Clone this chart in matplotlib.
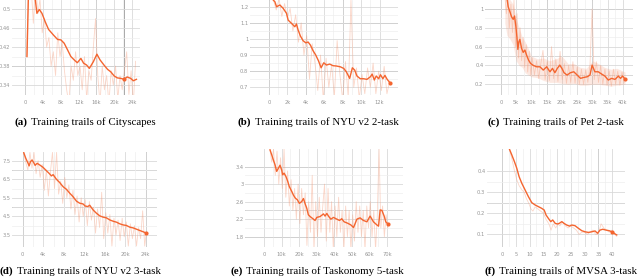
import matplotlib
matplotlib.use("Agg")
import matplotlib.pyplot as plt
from matplotlib.offsetbox import TextArea, HPacker, AnchoredOffsetbox

# ---------------- data ----------------
# (a) Cityscapes
a_smooth_x = [0.37, 0.75, 1.87, 2.6, 3.14, 3.74, 4.48, 5.23, 6.35, 7.25, 8.0, 8.74, 9.5, 10.24, 11.2, 11.7,
              12.5, 13.1, 13.8, 14.4, 15.3, 16.1, 16.8, 17.7, 18.5, 19.2, 20.0, 20.7, 21.5, 22.2, 22.9, 23.7,
              24.3, 25.0]
a_smooth_y = [0.400, 0.55, 0.55, 0.491, 0.499, 0.491, 0.473, 0.457, 0.445, 0.436, 0.435, 0.428, 0.414, 0.400,
              0.391, 0.387, 0.396, 0.386, 0.382, 0.375, 0.389, 0.405, 0.393, 0.382, 0.373, 0.368, 0.359, 0.355,
              0.354, 0.352, 0.357, 0.354, 0.349, 0.352]
a_raw_x = [0.3, 0.8, 1.3, 1.8, 2.3, 2.8, 3.3, 3.8, 4.3, 4.8, 5.3, 5.8, 6.3, 6.8, 7.3, 7.8, 8.3, 8.8, 9.3, 9.8,
           10.3, 10.8, 11.3, 11.8, 12.3, 12.8, 13.3, 13.8, 14.3, 14.8, 15.3, 15.8, 16.3, 16.8, 17.3, 17.8,
           18.3, 18.8, 19.3, 19.8, 20.3, 20.8, 21.3, 21.8, 22.3, 22.8, 23.3, 23.8, 24.3, 24.8]
a_raw_y = [0.40, 0.58, 0.55, 0.47, 0.56, 0.49, 0.52, 0.45, 0.48, 0.42, 0.44, 0.38, 0.41, 0.36, 0.45, 0.40,
           0.43, 0.37, 0.33, 0.30, 0.38, 0.35, 0.41, 0.36, 0.38, 0.33, 0.40, 0.31, 0.37, 0.35, 0.42, 0.48,
           0.36, 0.30, 0.38, 0.33, 0.36, 0.30, 0.37, 0.34, 0.38, 0.31, 0.36, 0.33, 0.37, 0.41, 0.32, 0.37,
           0.30, 0.39]
a_dot = (22.3, 0.352)
a_yticks = [0.34, 0.38, 0.42, 0.46, 0.5]
a_ylabels = ["0.34", "0.38", "0.42", "0.46", "0.5"]
a_xticks = [0, 4, 8, 12, 16, 20, 24]
a_xlabels = ["0", "4k", "8k", "12k", "16k", "20k", "24k"]

# (b) NYU v2 2-task
b_smooth_x = [0.47, 0.65, 0.83, 1.19, 1.55, 1.91, 2.09, 2.45, 2.81, 2.99, 3.17, 3.42, 3.71, 4.0, 4.25, 4.5,
              4.79, 5.08, 5.37, 5.66, 5.95, 6.24, 6.59, 6.95, 7.32, 7.75, 8.11, 8.4, 8.76, 9.05, 9.3, 9.55,
              9.91, 10.27, 10.63, 11.0, 11.2, 11.43, 11.64, 11.9, 12.1, 12.36, 12.58, 12.83, 13.0, 13.15]
b_smooth_y = [1.242, 1.231, 1.200, 1.211, 1.190, 1.159, 1.117, 1.097, 1.076, 1.093, 1.055, 1.018, 0.989,
              0.976, 0.981, 0.962, 0.927, 0.900, 0.865, 0.821, 0.852, 0.838, 0.844, 0.834, 0.832, 0.827,
              0.817, 0.796, 0.755, 0.821, 0.807, 0.770, 0.753, 0.753, 0.749, 0.765, 0.782, 0.745, 0.770,
              0.753, 0.778, 0.753, 0.774, 0.749, 0.737, 0.724]
b_raw_x = [0.5, 0.8, 1.1, 1.4, 1.7, 2.0, 2.3, 2.6, 2.9, 3.2, 3.5, 3.8, 4.1, 4.4, 4.7, 5.0, 5.3, 5.6, 5.9,
           6.2, 6.5, 6.8, 7.1, 7.4, 7.7, 8.0, 8.3, 8.6, 8.9, 9.2, 9.5, 9.8, 10.1, 10.4, 10.7, 11.0, 11.3,
           11.6, 11.9, 12.2, 12.5, 12.8, 13.1]
b_raw_y = [1.24, 1.18, 1.25, 1.14, 1.22, 1.13, 1.19, 1.05, 1.15, 0.98, 1.10, 0.90, 1.02, 0.75, 0.97, 0.85,
           0.68, 0.90, 0.62, 0.88, 0.70, 0.84, 0.64, 0.99, 0.78, 0.62, 0.86, 0.64, 1.24, 0.70, 0.82, 0.63,
           0.78, 0.66, 0.82, 0.70, 0.85, 0.66, 0.80, 0.68, 0.83, 0.66, 0.74]
b_dot = (13.15, 0.724)
b_yticks = [0.7, 0.8, 0.9, 1.0, 1.1, 1.2]
b_ylabels = ["0.7", "0.8", "0.9", "1", "1.1", "1.2"]
b_xticks = [0, 2, 4, 6, 8, 10, 12]
b_xlabels = ["0", "2k", "4k", "6k", "8k", "10k", "12k"]

# (c) Pet 2-task
c_smooth_x = [1.31, 2.08, 2.4, 2.95, 3.5, 4.04, 4.48, 4.92, 5.25, 5.57, 5.9, 6.23, 6.78, 7.32, 7.87, 8.42,
              9.07, 9.73, 10.6, 11.7, 12.8, 13.9, 15.0, 16.1, 16.9, 17.7, 18.5, 19.3, 20.0, 20.7, 21.7, 22.8,
              23.9, 25.0, 26.1, 27.2, 28.3, 29.2, 29.9, 30.8, 31.9, 33.0, 34.1, 35.2, 36.3, 37.4, 38.5, 39.2,
              39.9, 40.7]
c_smooth_y = [1.15, 1.096, 1.025, 0.972, 0.918, 0.890, 0.926, 0.812, 0.705, 0.571, 0.652, 0.677, 0.582,
              0.539, 0.564, 0.511, 0.457, 0.422, 0.401, 0.386, 0.386, 0.351, 0.386, 0.333, 0.369, 0.323,
              0.369, 0.404, 0.369, 0.323, 0.298, 0.323, 0.333, 0.298, 0.263, 0.273, 0.280, 0.298, 0.404,
              0.333, 0.333, 0.309, 0.287, 0.245, 0.263, 0.252, 0.287, 0.263, 0.287, 0.256]
c_band_x = [1.3, 2, 3, 4, 5, 6, 7, 8, 9, 10, 12, 14, 16, 18, 20, 22, 24, 26, 28, 30, 32, 34, 36, 38, 40.7]
c_band_lo = [0.85, 0.72, 0.68, 0.62, 0.45, 0.40, 0.38, 0.32, 0.30, 0.28, 0.27, 0.24, 0.22, 0.22, 0.21,
             0.20, 0.21, 0.19, 0.19, 0.20, 0.20, 0.19, 0.18, 0.19, 0.20]
c_band_hi = [1.15, 1.15, 1.10, 1.05, 0.90, 0.80, 0.70, 0.65, 0.58, 0.50, 0.47, 0.48, 0.45, 0.47, 0.50,
             0.42, 0.42, 0.38, 0.37, 0.45, 0.42, 0.38, 0.36, 0.37, 0.33]
c_raw_x = [1.3, 1.8, 2.3, 2.8, 3.3, 3.8, 4.3, 4.8, 5.3, 5.8, 6.3, 6.8, 7.3, 7.8, 8.3, 8.8, 9.3, 9.8, 10.3,
           11.0, 11.7, 12.4, 13.1, 13.8, 14.5, 15.2, 15.9, 16.6, 17.3, 18.0, 18.7, 19.4, 20.1, 20.8, 21.5,
           22.2, 22.9, 23.6, 24.3, 25.0, 25.7, 26.4, 27.1, 27.8, 28.5, 29.2, 29.9, 30.6, 31.3, 32.0, 32.7,
           33.4, 34.1, 34.8, 35.5, 36.2, 36.9, 37.6, 38.3, 39.0, 39.7, 40.4]
c_raw_y = [1.15, 0.95, 1.12, 0.80, 1.05, 0.75, 1.10, 0.60, 0.95, 0.48, 0.80, 0.45, 0.70, 0.38, 0.62, 0.33,
           0.55, 0.30, 0.48, 0.30, 0.45, 0.26, 0.42, 0.56, 0.25, 0.44, 0.24, 0.60, 0.26, 0.47, 0.23, 0.55,
           0.25, 0.42, 0.21, 0.40, 0.22, 0.44, 0.21, 0.38, 0.20, 0.36, 0.20, 0.35, 0.22, 0.40, 1.00, 0.25,
           0.44, 0.22, 0.40, 0.20, 0.36, 0.19, 0.34, 0.18, 0.36, 0.20, 0.34, 0.19, 0.33, 0.22]
c_dot = (40.7, 0.256)
c_yticks = [0.2, 0.4, 0.6, 0.8, 1.0]
c_ylabels = ["0.2", "0.4", "0.6", "0.8", "1"]
c_xticks = [0, 5, 10, 15, 20, 25, 30, 35, 40]
c_xlabels = ["0", "5k", "10k", "15k", "20k", "25k", "30k", "35k", "40k"]

# (d) NYU v2 3-task
d_smooth_x = [0.2, 0.59, 1.04, 1.24, 1.5, 1.82, 2.15, 2.41, 2.8, 3.32, 3.97, 4.62, 5.14, 5.6, 5.92, 6.57,
              7.22, 7.87, 8.52, 9.17, 9.82, 10.48, 11.12, 11.77, 12.16, 12.68, 13.07, 13.72, 14.38, 15.02,
              15.67, 16.33, 16.98, 17.63, 18.28, 18.93, 19.58, 20.24, 20.88, 21.54, 22.2, 22.83, 23.5, 24.1]
d_smooth_y = [7.93, 7.63, 7.36, 7.22, 7.45, 7.54, 7.39, 7.25, 7.36, 7.27, 7.14, 6.96, 6.82, 6.68, 6.75,
              6.50, 6.32, 6.10, 5.96, 5.75, 5.56, 5.32, 5.21, 5.17, 5.06, 5.03, 5.10, 4.85, 4.67, 4.53, 4.46,
              4.42, 4.31, 4.24, 4.19, 4.10, 4.04, 4.01, 3.92, 3.88, 3.81, 3.74, 3.67, 3.60]
d_raw_x = [0.2, 0.6, 1.0, 1.4, 1.8, 2.2, 2.6, 3.0, 3.4, 3.8, 4.2, 4.6, 5.0, 5.4, 5.8, 6.2, 6.6, 7.0, 7.4,
           7.8, 8.2, 8.6, 9.0, 9.4, 9.8, 10.2, 10.6, 11.0, 11.4, 11.8, 12.2, 12.6, 13.0, 13.4, 13.8, 14.2,
           14.6, 15.0, 15.4, 15.8, 16.2, 16.6, 17.0, 17.4, 17.8, 18.2, 18.6, 19.0, 19.4, 19.8, 20.2, 20.6,
           21.0, 21.4, 21.8, 22.2, 22.6, 23.0, 23.4, 23.8, 24.1]
d_raw_y = [7.9, 7.4, 7.0, 7.95, 7.1, 7.95, 6.8, 7.5, 6.6, 7.3, 5.9, 7.0, 5.6, 6.9, 7.95, 6.0, 7.95, 5.7,
           6.4, 5.2, 6.6, 5.5, 6.2, 4.9, 5.9, 4.6, 5.6, 4.2, 5.5, 4.5, 5.4, 4.0, 5.3, 4.3, 5.0, 3.6, 4.9,
           3.9, 5.8, 3.3, 4.7, 3.6, 4.6, 2.9, 4.4, 3.5, 4.3, 3.2, 4.4, 3.4, 4.2, 2.9, 4.1, 3.3, 4.0, 2.9,
           3.9, 3.3, 4.8, 2.9, 3.6]
d_dot = (24.1, 3.60)
d_yticks = [3.5, 4.5, 5.5, 6.5, 7.5]
d_ylabels = ["3.5", "4.5", "5.5", "6.5", "7.5"]
d_xticks = [0, 4, 8, 12, 16, 20, 24]
d_xlabels = ["0", "4k", "8k", "12k", "16k", "20k", "24k"]

# (e) Taskonomy 5-task
e_smooth_x = [3.42, 4.36, 5.31, 6.26, 7.21, 8.16, 9.1, 10.07, 10.6, 11.4, 12.5, 13.5, 14.4, 15.8, 16.7,
              17.8, 19.0, 20.1, 21.4, 22.4, 23.3, 24.3, 25.2, 26.2, 28.1, 29.0, 30.0, 31.9, 33.8, 34.7, 35.7,
              36.8, 38.0, 39.5, 41.4, 42.9, 44.2, 45.5, 47.4, 49.3, 50.9, 52.8, 54.6, 56.5, 58.5, 60.3, 62.2,
              64.1, 65.1, 66.0, 67.0, 68.3, 69.2, 70.4]
e_smooth_y = [3.78, 3.67, 3.55, 3.44, 3.29, 3.36, 3.43, 3.32, 3.21, 3.25, 3.17, 3.06, 2.94, 2.83, 2.75,
              2.68, 2.64, 2.56, 2.60, 2.67, 2.56, 2.45, 2.30, 2.26, 2.20, 2.17, 2.24, 2.26, 2.32, 2.27, 2.33,
              2.26, 2.20, 2.24, 2.20, 2.17, 2.21, 2.14, 2.11, 2.07, 2.01, 2.20, 2.23, 2.17, 2.14, 2.27, 2.14,
              2.07, 2.04, 2.41, 2.40, 2.27, 2.14, 2.09]
e_raw_x = [3.4, 4.4, 5.4, 6.4, 7.4, 8.4, 9.4, 10.4, 11.4, 12.4, 13.4, 14.4, 15.4, 16.4, 17.4, 18.4, 19.4,
           20.4, 21.4, 22.4, 23.4, 24.4, 25.4, 26.4, 27.4, 28.4, 29.4, 30.4, 31.4, 32.4, 33.4, 34.4, 35.4,
           36.4, 37.4, 38.4, 39.4, 40.4, 41.4, 42.4, 43.4, 44.4, 45.4, 46.4, 47.4, 48.4, 49.4, 50.4, 51.4,
           52.4, 53.4, 54.4, 55.4, 56.4, 57.4, 58.4, 59.4, 60.4, 61.4, 62.4, 63.4, 64.4, 65.4, 66.4, 67.4,
           68.4, 69.4, 70.4]
e_raw_y = [3.78, 3.5, 3.8, 3.2, 3.75, 3.0, 3.6, 2.9, 3.8, 2.7, 3.3, 2.5, 3.1, 2.4, 2.9, 2.2, 3.0, 2.1, 2.9,
           2.3, 2.8, 1.6, 2.6, 1.9, 3.2, 1.5, 2.6, 1.8, 2.7, 1.9, 2.5, 3.0, 1.7, 2.9, 1.9, 2.6, 1.5, 2.5,
           1.8, 2.7, 1.9, 2.4, 1.5, 2.5, 1.8, 2.4, 1.5, 2.3, 1.7, 2.6, 1.9, 2.5, 1.8, 2.4, 1.5, 2.5, 2.0,
           2.6, 1.8, 2.4, 1.5, 2.3, 3.8, 2.0, 2.5, 1.8, 2.3, 2.0]
e_dot = (70.4, 2.09)
e_yticks = [1.8, 2.2, 2.6, 3.0, 3.4]
e_ylabels = ["1.8", "2.2", "2.6", "3", "3.4"]
e_xticks = [0, 10, 20, 30, 40, 50, 60, 70]
e_xlabels = ["0", "10k", "20k", "30k", "40k", "50k", "60k", "70k"]

# (f) MVSA 3-task
f_smooth_x = [2.67, 3.52, 4.48, 5.33, 6.18, 7.15, 8.36, 9.58, 10.79, 12.0, 13.2, 14.4, 15.3, 16.0, 16.8,
              17.7, 18.4, 19.3, 20.1, 20.8, 21.7, 22.5, 23.5, 24.5, 25.3, 26.5, 27.8, 29.0, 30.2, 31.4, 32.6,
              33.8, 34.7, 35.6, 36.6, 37.8, 39.0, 39.9, 40.7, 41.7]
f_smooth_y = [0.503, 0.476, 0.444, 0.413, 0.373, 0.342, 0.310, 0.278, 0.250, 0.239, 0.231, 0.223, 0.215,
              0.191, 0.176, 0.160, 0.168, 0.152, 0.149, 0.152, 0.160, 0.152, 0.144, 0.139, 0.144, 0.141,
              0.128, 0.117, 0.112, 0.109, 0.112, 0.116, 0.105, 0.120, 0.124, 0.120, 0.117, 0.112, 0.105,
              0.097]
f_raw_x = [2.7, 3.5, 4.5, 5.3, 6.2, 7.2, 8.0, 8.8, 9.6, 10.5, 11.2, 12, 13, 14, 15, 16, 17, 17.8, 18.6,
           19.5, 20.3, 21, 22, 23, 24, 25, 26, 27, 28, 29, 30, 31, 32, 33, 34, 35, 36, 37, 38, 39, 40, 41,
           41.7]
f_raw_y = [0.50, 0.46, 0.40, 0.36, 0.33, 0.31, 0.30, 0.27, 0.25, 0.22, 0.21, 0.23, 0.22, 0.21, 0.20, 0.17,
           0.15, 0.12, 0.15, 0.13, 0.15, 0.14, 0.16, 0.14, 0.13, 0.14, 0.13, 0.12, 0.10, 0.11, 0.11, 0.10,
           0.11, 0.12, 0.10, 0.10, 0.15, 0.13, 0.12, 0.11, 0.12, 0.10, 0.09]
f_dot = (39.9, 0.112)
f_yticks = [0.1, 0.2, 0.3, 0.4]
f_ylabels = ["0.1", "0.2", "0.3", "0.4"]
f_xticks = [0, 5, 10, 15, 20, 25, 30, 35, 40]
f_xlabels = ["0", "5", "10", "15", "20", "25", "30", "35", "40"]

captions = [("(a)", "Training trails of Cityscapes"),
            ("(b)", "Training trails of NYU v2 2-task"),
            ("(c)", "Training trails of Pet 2-task"),
            ("(d)", "Training trails of NYU v2 3-task"),
            ("(e)", "Training trails of Taskonomy 5-task"),
            ("(f)", "Training trails of MVSA 3-task")]

# ---------------- layout / style ----------------
W, H = 640, 279
SMOOTH = "#f4652f"
RAW = "#f59a78"
GRID = "#d9d9d9"
GRID_MINOR = "#eeeeee"
GRID_DARK = "#a9a9a9"
TICK = "#959595"

panels = [
    dict(rect=(12, 0, 140, 95), xlim=(-3.0, 25.8), ylim=(0.319, 0.519),
         sx=a_smooth_x, sy=a_smooth_y, rx=a_raw_x, ry=a_raw_y, dot=a_dot,
         yt=a_yticks, yl=a_ylabels, xt=a_xticks, xl=a_xlabels,
         dh=[0.38], dv=[0, 16, 22.2], cap=(85, 122)),
    dict(rect=(250, 0, 398, 95), xlim=(-2.05, 14.0), ylim=(0.652, 1.242),
         sx=b_smooth_x, sy=b_smooth_y, rx=b_raw_x, ry=b_raw_y, dot=b_dot,
         yt=b_yticks, yl=b_ylabels, xt=b_xticks, xl=b_xlabels,
         dh=[1.1, 0.95, 0.8], dv=[0, 4, 8], cap=(318, 122)),
    dict(rect=(485, 0, 633, 95), xlim=(-5.2, 43.3), ylim=(0.086, 1.096),
         sx=c_smooth_x, sy=c_smooth_y, rx=c_raw_x, ry=c_raw_y, dot=c_dot,
         band=(c_band_x, c_band_lo, c_band_hi),
         yt=c_yticks, yl=c_ylabels, xt=c_xticks, xl=c_xlabels,
         dh=[1.0, 0.5, 0.3], dv=[0, 15, 30], cap=(556, 122)),
    dict(rect=(12, 152, 157, 247), xlim=(-2.1, 26.2), ylim=(2.85, 7.97),
         sx=d_smooth_x, sy=d_smooth_y, rx=d_raw_x, ry=d_raw_y, dot=d_dot,
         yt=d_yticks, yl=d_ylabels, xt=d_xticks, xl=d_xlabels,
         dh=[7.0, 5.0], dv=[0, 24], cap=(80, 271)),
    dict(rect=(245, 149, 403, 247), xlim=(-10.8, 79), ylim=(1.565, 3.80),
         sx=e_smooth_x, sy=e_smooth_y, rx=e_raw_x, ry=e_raw_y, dot=e_dot,
         yt=e_yticks, yl=e_ylabels, xt=e_xticks, xl=e_xlabels,
         dh=[3.4, 2.4, 1.8], dv=[], cap=(317, 271)),
    dict(rect=(487, 149, 625, 247), xlim=(-5.5, 44.7), ylim=(0.04, 0.504),
         sx=f_smooth_x, sy=f_smooth_y, rx=f_raw_x, ry=f_raw_y, dot=f_dot,
         yt=f_yticks, yl=f_ylabels, xt=f_xticks, xl=f_xlabels,
         dh=[0.25], dv=[0, 35], cap=(561, 271)),
]

fig = plt.figure(figsize=(W / 100, H / 100), dpi=100)
fig.patch.set_facecolor("white")

for p, (lab, txt) in zip(panels, captions):
    l, t, r, b = p["rect"]
    ax = fig.add_axes([l / W, 1 - b / H, (r - l) / W, (b - t) / H])
    ax.set_xlim(*p["xlim"])
    ax.set_ylim(*p["ylim"])
    for s in ax.spines.values():
        s.set_visible(False)
    ax.set_xticks(p["xt"])
    ax.set_xticklabels(p["xl"])
    ax.set_yticks(p["yt"])
    ax.set_yticklabels(p["yl"])
    xt, yt = p["xt"], p["yt"]
    ax.set_xticks([(xt[i] + xt[i + 1]) / 2 for i in range(len(xt) - 1)], minor=True)
    ax.set_yticks([(yt[i] + yt[i + 1]) / 2 for i in range(len(yt) - 1)], minor=True)
    ax.tick_params(which="both", length=0, labelsize=3.7, labelcolor=TICK)
    ax.tick_params(axis="x", pad=3.5)
    ax.tick_params(axis="y", pad=1.2)
    ax.grid(True, which="major", color=GRID, lw=0.6)
    ax.grid(True, which="minor", color=GRID_MINOR, lw=0.5)
    ax.set_axisbelow(True)
    for yv in p["dh"]:
        ax.axhline(yv, color=GRID_DARK, lw=0.7, zorder=0.5)
    for xv in p["dv"]:
        ax.axvline(xv, color=GRID_DARK, lw=0.7, zorder=0.5)
    if "band" in p:
        bx, blo, bhi = p["band"]
        ax.fill_between(bx, blo, bhi, color=RAW, alpha=0.22, lw=0)
    ax.plot(p["rx"], p["ry"], color=RAW, lw=0.6, alpha=0.4)
    ax.plot(p["sx"], p["sy"], color=SMOOTH, lw=1.0)
    ax.plot([p["dot"][0]], [p["dot"][1]], "o", color=SMOOTH, ms=3, mec="none")

    cx, cy = p["cap"]
    t1 = TextArea(lab, textprops=dict(fontfamily="Liberation Serif", fontweight="bold", fontsize=7.8))
    t2 = TextArea(txt, textprops=dict(fontfamily="Liberation Serif", fontsize=7.8))
    pack = HPacker(children=[t1, t2], sep=2.5, pad=0, align="baseline")
    ab = AnchoredOffsetbox(loc="center", child=pack, pad=0, borderpad=0, frameon=False,
                           bbox_to_anchor=(cx / W, 1 - cy / H), bbox_transform=fig.transFigure)
    fig.add_artist(ab)

fig.savefig("out.png", dpi=100)
